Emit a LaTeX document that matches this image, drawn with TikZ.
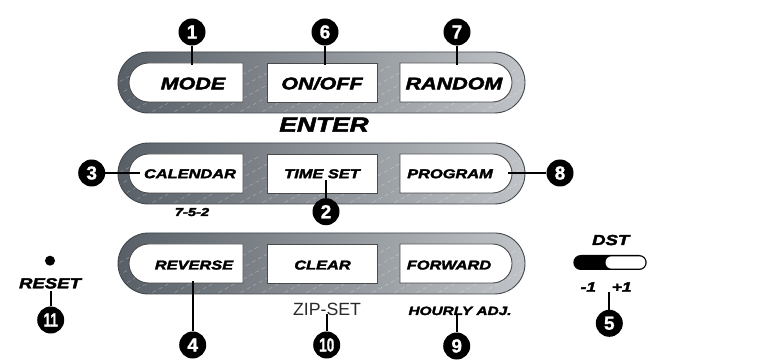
\documentclass[tikz,border=0pt]{standalone}
\usepackage{fontspec}
\setmainfont{Liberation Sans}
\newfontfamily\btnf[FakeStretch=1.28,FakeBold=2.6]{Liberation Sans Bold Italic}
\newfontfamily\numf[FakeBold=1.2]{Liberation Sans Bold}
\newfontfamily\zipf{Liberation Sans}
\definecolor{pillL}{HTML}{585F66}
\definecolor{pillR}{HTML}{C0C4C8}
\definecolor{pillE}{HTML}{40464C}
\definecolor{btnE}{HTML}{4A4A4A}
\definecolor{zipc}{HTML}{2A2A2A}
\tikzset{
 pill/.style={left color=pillL,right color=pillR,draw=pillE,line width=0.9pt,rounded corners=30.5pt},
 btnbox/.style={fill=white,draw=btnE,line width=0.9pt},
 hatch/.style={white,opacity=0.35,line width=0.5pt,dash pattern=on 4pt off 3pt},
 lbl/.style={anchor=base,inner sep=0pt,text=black},
 big/.style={lbl,font=\btnf\fontsize{16.8}{18}\selectfont},
 small/.style={lbl,font=\btnf\fontsize{12.8}{14}\selectfont},
 badge/.style={circle,fill=black,minimum size=27pt,inner sep=0pt,text=white,font=\numf\fontsize{19}{19}\selectfont},
 lead/.style={line width=1.8pt,black},
}
\begin{document}
\begin{tikzpicture}[x=1pt,y=-1pt]
\useasboundingbox (0,0) rectangle (779,363);
\fill[white] (0,0) rectangle (779,363);
% bars
\foreach \o in {0,91,181}{
 \begin{scope}[shift={(0,\o)}]
  \path[pill] (118,52) rectangle (525,113);
  \begin{scope}
   \clip[rounded corners=30.5pt] (118,52) rectangle (525,113);
   \foreach \h in {40,62,...,560} \draw[hatch] (\h,125) -- ++(110,-60);
  \end{scope}
  \draw[btnbox] (243,63) -- (148.5,63) arc[start angle=90,end angle=270,radius=19.5pt] -- (243,102) -- cycle;
  \draw[btnbox] (267,63) rectangle (377,102);
  \draw[btnbox] (400,63) -- (492.5,63) arc[start angle=90,end angle=-90,radius=19.5pt] -- (400,102) -- cycle;
 \end{scope}}
% labels
\node[big] (mode) at (193,89.3) {MODE};
\node[big] (onoff) at (322,89.3) {ON/OFF};
\node[big] (random) at (454,89.3) {RANDOM};
\node[lbl,font=\btnf\fontsize{20.6}{22}\selectfont] (enter) at (324,131.7) {ENTER};
\node[small] (calendar) at (190,178.2) {CALENDAR};
\node[small] (timeset) at (322,178.2) {TIME SET};
\node[small] (program) at (450,178.2) {PROGRAM};
\node[lbl,font=\btnf\fontsize{11.5}{13}\selectfont] (code) at (192,216) {7-5-2};
\node[small] (reverse) at (194,269.5) {REVERSE};
\node[small] (clear) at (322.5,269.5) {CLEAR};
\node[small] (forward) at (449,269.5) {FORWARD};
\node[lbl,text=zipc,font=\zipf\fontsize{17.7}{19}\selectfont] (zip) at (327,316) {ZIP-SET};
\node[lbl,font=\btnf\fontsize{12}{14}\selectfont] (hourly) at (460,315) {HOURLY ADJ.};
\node[lbl,font=\btnf\fontsize{14.5}{16}\selectfont] (reset) at (50,288.3) {RESET};
\fill (50,260.7) circle[radius=5pt];
\node[lbl,font=\btnf\fontsize{14.5}{16}\selectfont] (dst) at (610.7,245) {DST};
\node[lbl,font=\btnf\fontsize{13.5}{15}\selectfont] (minus) at (588.3,291.7) {-1};
\node[lbl,font=\btnf\fontsize{13.5}{15}\selectfont] (plus) at (621.7,291.7) {+1};
% switch
\fill[black,rounded corners=7.5pt] (573.3,255) rectangle (646.7,270);
\fill[white,rounded corners=6.2pt] (605.5,256.3) rectangle (645.4,268.7);
% lead end points
\coordinate (c1) at (192,65);
\coordinate (c6) at (325,65);
\coordinate (c7) at (457,65);
\coordinate (c3) at (140,173);
\coordinate (c8) at (508,173);
\coordinate (c2) at (326,180);
\coordinate (c4) at (192.7,281.5);
\coordinate (c10) at (326.7,314.5);
\coordinate (c9) at (456.7,315.5);
\coordinate (c11) at (50.7,291.5);
\coordinate (c5) at (609.3,292.5);
% badges
\node[badge] (b1) at (192,32) {1};
\node[badge] (b6) at (325,32) {6};
\node[badge] (b7) at (457,32) {7};
\node[badge] (b3) at (91.7,173) {3};
\node[badge] (b8) at (560,173) {8};
\node[badge] (b2) at (326,211.7) {2};
\node[badge] (b4) at (192.7,345) {4};
\node[badge] (b10) at (326.7,345) {\scalebox{0.72}[1]{10}};
\node[badge] (b9) at (456.7,346) {9};
\node[badge] (b11) at (50.7,320) {\scalebox{0.72}[1]{11}};
\node[badge] (b5) at (609.3,323.3) {5};
% leads
\draw[lead] (b1) -- (c1);
\draw[lead] (b6) -- (c6);
\draw[lead] (b7) -- (c7);
\draw[lead] (b3) -- (c3);
\draw[lead] (b8) -- (c8);
\draw[lead] (b2) -- (c2);
\draw[lead] (b4) -- (c4);
\draw[lead] (b10) -- (c10);
\draw[lead] (b9) -- (c9);
\draw[lead] (b11) -- (c11);
\draw[lead] (b5) -- (c5);
\end{tikzpicture}
\end{document}
